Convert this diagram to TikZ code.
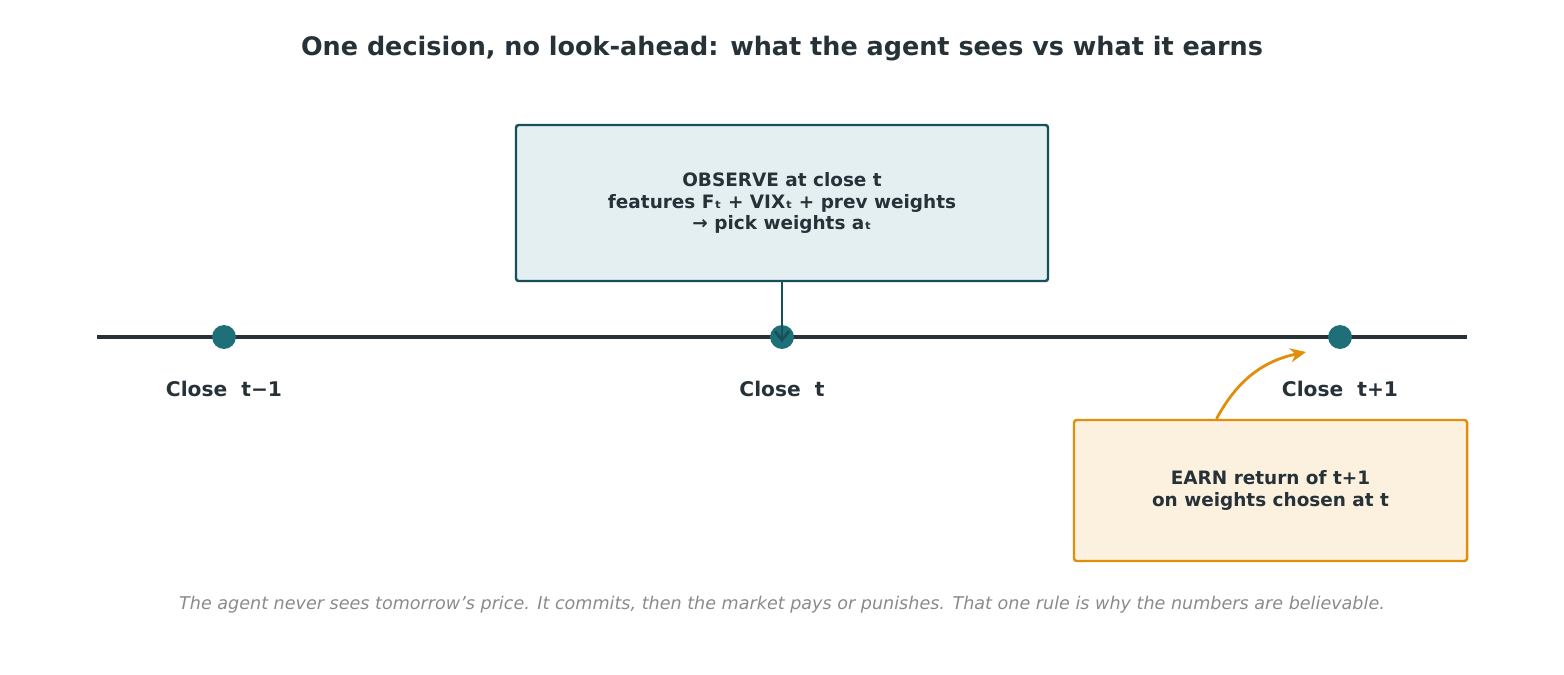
\documentclass[tikz,border=0pt]{standalone}
\usepackage{fontspec}
\setmainfont{DejaVu Sans}
\usetikzlibrary{arrows.meta}
\definecolor{ink}{HTML}{263238}
\definecolor{teal}{HTML}{1F6F78}
\definecolor{tealdark}{HTML}{17505A}
\definecolor{tealfill}{HTML}{E3EFF1}
\definecolor{amber}{HTML}{E08E0B}
\definecolor{amberfill}{HTML}{FCF1DE}
\definecolor{note}{HTML}{8A8A8A}
\tikzset{dot/.style={circle,fill=teal,inner sep=0pt,minimum size=13.6pt},
    ticklabel/.style={font=\bfseries\fontsize{11.5}{13}\selectfont,text=ink},
    infobox/.style={rounded corners=1.5pt,line width=1.4pt,align=center,
        text=ink,font=\bfseries\fontsize{10.5}{12.5}\selectfont}}
\begin{document}
\begin{tikzpicture}[x=0.02cm,y=-0.02cm]
    \useasboundingbox (0,0) rectangle (1564,674);
    \node[font=\bfseries\fontsize{14.5}{17}\selectfont,text=ink] (title) at (782,49)
        {One decision, no look-ahead: what the agent sees vs what it earns};
    \coordinate (lineL) at (97,337);
    \coordinate (lineR) at (1467,337);
    \draw[ink,line width=1.8pt] (lineL) -- (lineR);
    \node[dot] (prev) at (224,337) {};
    \node[dot] (now) at (782,337) {};
    \node[dot] (next) at (1340,337) {};
    \node[ticklabel] (prevlab) at (224,389) {Close\ \ t−1};
    \node[ticklabel] (nowlab) at (782,389) {Close\ \ t};
    \node[ticklabel] (nextlab) at (1340,389) {Close\ \ t+1};
    % observe box
    \node[infobox,draw=tealdark,fill=tealfill,minimum width=532*0.02cm,minimum height=156*0.02cm]
        (observe) at (782,203) {OBSERVE at close t\\features Fₜ + VIXₜ + prev weights\\→ pick weights aₜ};
    \draw[tealdark,line width=1.6pt,-{Straight Barb[length=5pt,width=8pt]}]
        (observe.south) -- ([yshift=-10pt]now.north);
    % earn box
    \node[infobox,draw=amber,fill=amberfill,minimum width=393*0.02cm,minimum height=141*0.02cm]
        (earn) at (1270.5,490.5) {EARN return of t+1\\on weights chosen at t};
    \coordinate (earnhit) at (1306,352);
    \draw[amber,line width=1.6pt,-{Stealth[length=9pt,width=8pt]}]
        ([xshift=-54*0.02cm]earn.north) to[bend left=25] (earnhit);
    \node[font=\itshape\fontsize{10}{12}\selectfont,text=note] (footer) at (782,605)
        {The agent never sees tomorrow's price. It commits, then the market pays or punishes. That one rule is why the numbers are believable.};
\end{tikzpicture}
\end{document}
